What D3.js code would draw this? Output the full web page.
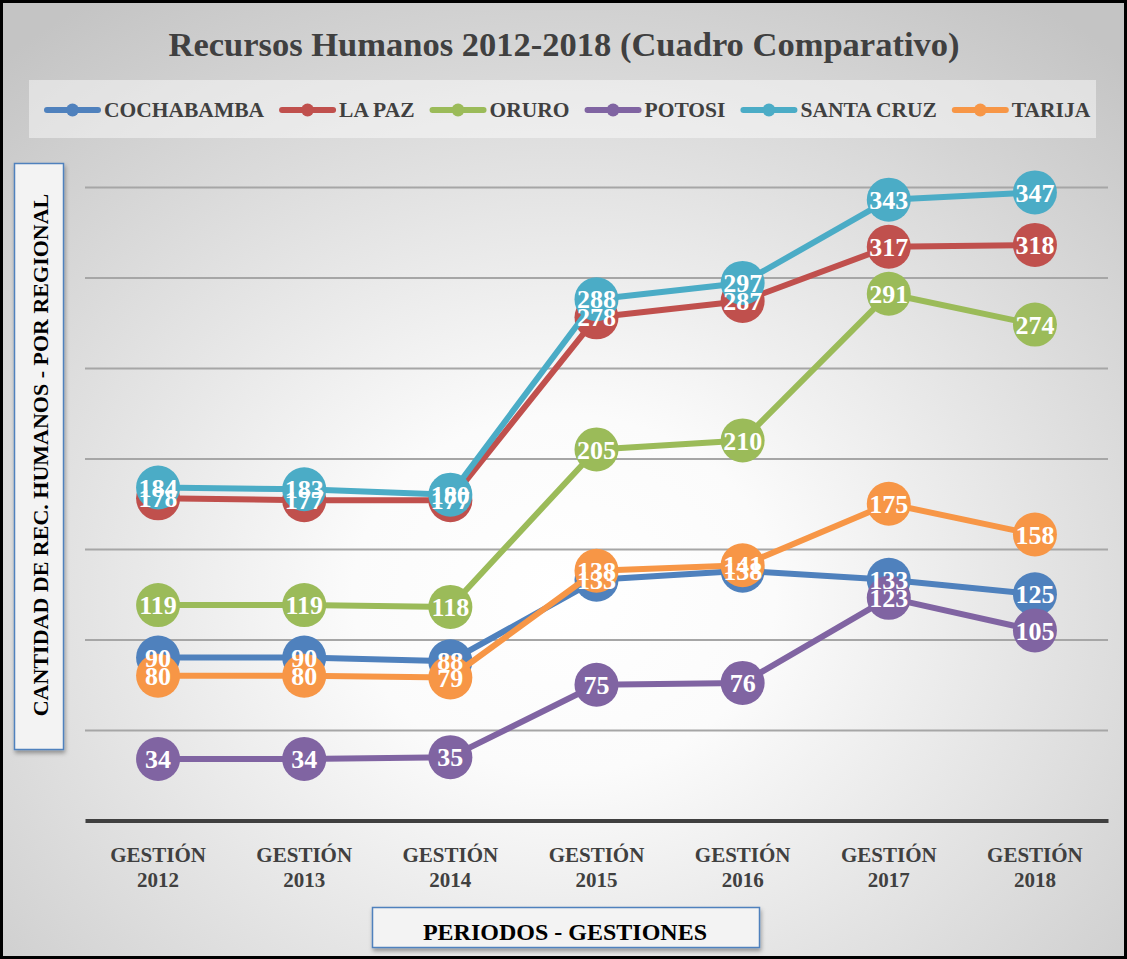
<!DOCTYPE html>
<html>
<head>
<meta charset="utf-8">
<script src="https://cdn.jsdelivr.net/npm/d3@7"></script>
<style>
body { margin: 0; background: #fff; }
text { font-family: "Liberation Serif", "Times New Roman", serif; font-weight: bold; }
</style>
</head>
<body>
<div id="chart"></div>
<script>
// Data
var years = ["2012", "2013", "2014", "2015", "2016", "2017", "2018"]
var regions = ["COCHABAMBA", "LA PAZ", "ORURO", "POTOSI", "SANTA CRUZ", "TARIJA"]
var cochabamba = [90, 90, 88, 133, 138, 133, 125]
var la_paz = [178, 177, 177, 278, 287, 317, 318]
var oruro = [119, 119, 118, 205, 210, 291, 274]
var potosi = [34, 34, 35, 75, 76, 123, 105]
var santa_cruz = [184, 183, 180, 288, 297, 343, 347]
var tarija = [80, 80, 79, 138, 141, 175, 158]
var grid_ticks = [50, 100, 150, 200, 250, 300, 350]

var colors = ["#4f81bd", "#c0504d", "#9bbb59", "#8064a2", "#4bacc6", "#f79646"]
var series = [cochabamba, la_paz, oruro, potosi, santa_cruz, tarija]

var W = 1127, H = 959
var margin = {top: 187, right: 19, bottom: 138.5, left: 85},
    width = W - margin.left - margin.right,
    height = H - margin.top - margin.bottom

var svg = d3.select("#chart")
.append("svg")
.attr("width", W)
.attr("height", H)

// Background gradient + shadow filter
var defs = svg.append("defs")
var grad = defs.append("radialGradient")
.attr("id", "bg")
.attr("cx", "50%").attr("cy", "62%").attr("r", "75%")
grad.append("stop").attr("offset", "0%").attr("stop-color", "#ffffff")
grad.append("stop").attr("offset", "25%").attr("stop-color", "#fbfbfb")
grad.append("stop").attr("offset", "100%").attr("stop-color", "#c4c4c4")

var shadow = defs.append("filter").attr("id", "shadow")
.attr("x", "-20%").attr("y", "-20%").attr("width", "140%").attr("height", "160%")
shadow.append("feDropShadow")
.attr("dx", 1).attr("dy", 3).attr("stdDeviation", 2)
.attr("flood-color", "#000").attr("flood-opacity", 0.35)

svg.append("rect")
.attr("x", 1.5).attr("y", 1.5)
.attr("width", W - 3).attr("height", H - 3)
.attr("fill", "url(#bg)")
.attr("stroke", "#000")
.attr("stroke-width", 3)

// Title
svg.append("text")
.attr("x", 564)
.attr("y", 56)
.attr("text-anchor", "middle")
.style("font-size", "34.5px")
.style("fill", "#404040")
.text("Recursos Humanos 2012-2018 (Cuadro Comparativo)")

// Scales
var x = d3.scaleBand()
.domain(years)
.range([margin.left, margin.left + width])

var y = d3.scaleLinear()
.domain([0, 350])
.range([margin.top + height, margin.top])

function cx(i) { return x(years[i]) + x.bandwidth() / 2 }

// Gridlines
var grid = svg.append("g")
.attr("transform", "translate(" + margin.left + ",0)")
.call(d3.axisLeft(y).tickValues(grid_ticks).tickSize(-width).tickFormat(""))
grid.select(".domain").remove()
grid.selectAll("line")
.attr("stroke", "#a6a6a6")
.attr("stroke-width", 2)

// X axis
var xAxis = svg.append("g")
.attr("transform", "translate(0," + y(0) + ")")
.call(d3.axisBottom(x).tickSize(0).tickSizeOuter(0))
xAxis.select(".domain")
.attr("stroke", "#404040")
.attr("stroke-width", 4)
xAxis.selectAll(".tick text")
.attr("dy", null)
.attr("y", null)
.style("font-size", "21px")
.style("fill", "#404040")
.each(function(d) {
  var t = d3.select(this)
  t.text(null)
  t.append("tspan").attr("x", 0).attr("y", 41.5).text("GESTIÓN")
  t.append("tspan").attr("x", 0).attr("y", 66.5).text(d)
})

// Axis title boxes
svg.append("rect")
.attr("x", 14.5).attr("y", 163.5)
.attr("width", 49).attr("height", 586)
.attr("fill", "#f3f3f3")
.attr("stroke", "#4f81bd")
.attr("stroke-width", 1.5)
.attr("filter", "url(#shadow)")

svg.append("text")
.attr("transform", "translate(48,455) rotate(-90)")
.attr("text-anchor", "middle")
.style("font-size", "22px")
.style("fill", "#000")
.text("CANTIDAD DE REC. HUMANOS - POR REGIONAL")

svg.append("rect")
.attr("x", 372.5).attr("y", 907.5)
.attr("width", 387).attr("height", 40)
.attr("fill", "#f3f3f3")
.attr("stroke", "#4f81bd")
.attr("stroke-width", 1.5)
.attr("filter", "url(#shadow)")

svg.append("text")
.attr("x", 565)
.attr("y", 940)
.attr("text-anchor", "middle")
.style("font-size", "24px")
.style("fill", "#000")
.text("PERIODOS - GESTIONES")

// Lines and markers, series by series
var line = d3.line()
.x(function(d, i) { return cx(i) })
.y(function(d) { return y(d) })

series.forEach(function(values, s) {
  var g = svg.append("g")
  g.append("path")
  .datum(values)
  .attr("d", line)
  .attr("fill", "none")
  .attr("stroke", colors[s])
  .attr("stroke-width", 6)
  .attr("stroke-linejoin", "round")

  g.selectAll("circle")
  .data(values)
  .enter()
  .append("circle")
  .attr("cx", function(d, i) { return cx(i) })
  .attr("cy", function(d) { return y(d) })
  .attr("r", 22)
  .attr("fill", colors[s])
})

// Data labels on top
series.forEach(function(values, s) {
  svg.append("g")
  .selectAll("text")
  .data(values)
  .enter()
  .append("text")
  .attr("x", function(d, i) { return cx(i) })
  .attr("y", function(d) { return y(d) })
  .attr("dy", "0.35em")
  .attr("text-anchor", "middle")
  .style("font-size", "26px")
  .style("fill", "#fff")
  .text(function(d) { return d })
})

// Legend
var legend = svg.append("g")
legend.append("rect")
.attr("x", 29).attr("y", 80)
.attr("width", 1067).attr("height", 58)
.attr("fill", "#ffffff")
.attr("fill-opacity", 0.45)

var lx = 44
regions.forEach(function(name, s) {
  var item = legend.append("g")
  item.append("line")
  .attr("x1", lx + 3).attr("x2", lx + 54)
  .attr("y1", 110).attr("y2", 110)
  .attr("stroke", colors[s])
  .attr("stroke-width", 6)
  .attr("stroke-linecap", "round")
  item.append("circle")
  .attr("cx", lx + 28.5).attr("cy", 110)
  .attr("r", 6.5)
  .attr("fill", colors[s])
  var t = item.append("text")
  .attr("x", lx + 60)
  .attr("y", 117)
  .style("font-size", "21.5px")
  .style("fill", "#404040")
  .text(name)
  lx = lx + 60 + t.node().getComputedTextLength() + 15
})
</script>
</body>
</html>
